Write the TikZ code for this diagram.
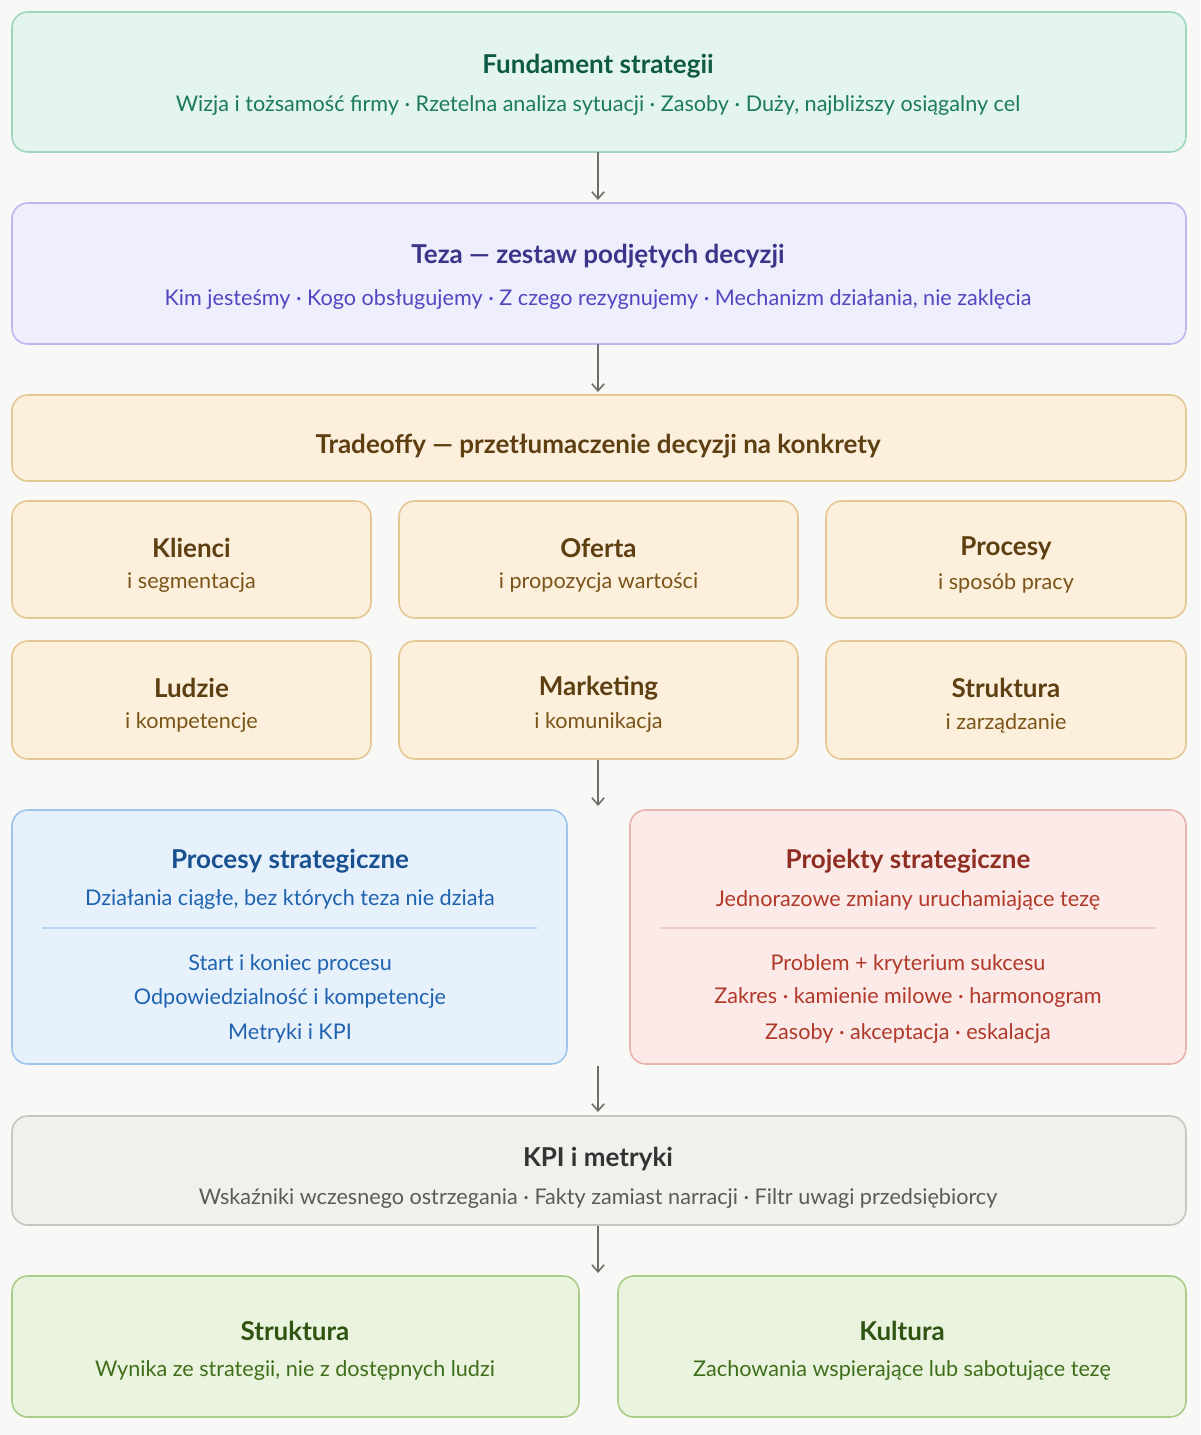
\documentclass[tikz,border=0pt]{standalone}
\usepackage{fontspec}
\setmainfont{Lato}
\usetikzlibrary{positioning,arrows.meta}
\definecolor{bgc}{HTML}{F8F8F6}
\definecolor{mintF}{HTML}{E4F5EE}\definecolor{mintD}{HTML}{9ED6BF}\definecolor{mintT}{HTML}{0F5A45}\definecolor{mintS}{HTML}{1B7B5B}
\definecolor{lilF}{HTML}{EEEEFD}\definecolor{lilD}{HTML}{BCB7F1}\definecolor{lilT}{HTML}{3C3489}\definecolor{lilS}{HTML}{5147C0}
\definecolor{sandF}{HTML}{FCF0DC}\definecolor{sandD}{HTML}{E5C793}\definecolor{sandT}{HTML}{5E3F12}\definecolor{sandS}{HTML}{7A5418}
\definecolor{bluF}{HTML}{E6F1FC}\definecolor{bluD}{HTML}{9CC5EE}\definecolor{bluT}{HTML}{185090}\definecolor{bluS}{HTML}{1F63B0}
\definecolor{redF}{HTML}{FBEAE7}\definecolor{redD}{HTML}{E8B3AA}\definecolor{redT}{HTML}{8E2E22}\definecolor{redS}{HTML}{B0392A}
\definecolor{grayF}{HTML}{F1F0EC}\definecolor{grayD}{HTML}{C8C6BF}\definecolor{grayT}{HTML}{333333}\definecolor{grayS}{HTML}{5A5A58}
\definecolor{grnF}{HTML}{EAF3DE}\definecolor{grnD}{HTML}{A9CC86}\definecolor{grnT}{HTML}{2F5311}\definecolor{grnS}{HTML}{3F6E1A}
\definecolor{arr}{HTML}{6E6E6A}
\tikzset{
  box/.style 2 args={draw=#2, fill=#1, line width=0.9pt, rounded corners=9pt},
  title/.style={font=\fontsize{14.8}{17}\selectfont\bfseries, text=#1, inner sep=0pt},
  sub/.style={font=\fontsize{12.3}{15}\selectfont, text=#1, inner sep=0pt},
  flow/.style={draw=arr, line width=0.9pt, -{Straight Barb[length=4pt,width=7pt]}},
}
\begin{document}
\begin{tikzpicture}[x=0.02cm,y=-0.02cm]
\fill[bgc] (0,0) rectangle (1200,1435);
\useasboundingbox (0,0) rectangle (1200,1435);

% ---------------------
% Fundament
\draw[box={mintF}{mintD}] (12,12) rectangle (1186,152);
\coordinate (FundS) at (598,152);
\node[title=mintT] (Fund) at (598,66) {Fundament strategii};
\node[sub=mintS] (FundSub) at (598,106) {Wizja i tożsamość firmy · Rzetelna analiza sytuacji · Zasoby · Duży, najbliższy osiągalny cel};

% ---------------------
% Teza
\draw[box={lilF}{lilD}] (12,203) rectangle (1186,344);
\coordinate (TezaN) at (598,203);
\coordinate (TezaS) at (598,344);
\node[title=lilT] (Teza) at (598,256) {Teza — zestaw podjętych decyzji};
\node[sub=lilS] (TezaSub) at (598,300) {Kim jesteśmy · Kogo obsługujemy · Z czego rezygnujemy · Mechanizm działania, nie zaklęcia};

% ---------------------
% Tradeoffy
\draw[box={sandF}{sandD}] (12,395) rectangle (1186,481);
\coordinate (TradeN) at (598,395);
\node[title=sandT] (Trade) at (598,446) {Tradeoffy — przetłumaczenie decyzji na konkrety};

\foreach \xa/\xb/\ya/\yb/\t/\s/\n in {
  12/371/501/618/Klienci/i segmentacja/klienci,
  399/798/501/618/Oferta/i propozycja wartości/oferta,
  826/1186/501/618/Procesy/i sposób pracy/procesy,
  12/371/641/759/Ludzie/i kompetencje/ludzie,
  399/798/641/759/Marketing/i komunikacja/marketing,
  826/1186/641/759/Struktura/i zarządzanie/struktura}{
  \draw[box={sandF}{sandD}] (\xa,\ya) rectangle (\xb,\yb);
  \node[title=sandT] (\n) at ({(\xa+\xb)/2},{\ya+47}) {\t};
  \node[sub=sandS] (\n-sub) at ({(\xa+\xb)/2},{\ya+82}) {\s};
}
\coordinate (MarkS) at (598,760);
\coordinate (SplitN) at (598,806);

% ---------------------
% Procesy / Projekty
\draw[box={bluF}{bluD}] (12,810) rectangle (567,1064);
\node[title=bluT] (ProcS) at (290,861) {Procesy strategiczne};
\node[sub=bluS] (ProcSub) at (290,900) {Działania ciągłe, bez których teza nie działa};
\draw[bluD!70, line width=0.7pt] (42,928) -- (537,928);
\node[sub=bluS] (Proc1) at (290,964) {Start i koniec procesu};
\node[sub=bluS] (Proc2) at (290,998) {Odpowiedzialność i kompetencje};
\node[sub=bluS] (Proc3) at (290,1033) {Metryki i KPI};

\draw[box={redF}{redD}] (630,810) rectangle (1186,1064);
\node[title=redT] (ProjS) at (908,861) {Projekty strategiczne};
\node[sub=redS] (ProjSub) at (908,900) {Jednorazowe zmiany uruchamiające tezę};
\draw[redD!70, line width=0.7pt] (661,928) -- (1156,928);
\node[sub=redS] (Proj1) at (908,964) {Problem + kryterium sukcesu};
\node[sub=redS] (Proj2) at (908,998) {Zakres · kamienie milowe · harmonogram};
\node[sub=redS] (Proj3) at (908,1033) {Zasoby · akceptacja · eskalacja};
\coordinate (SplitS) at (598,1066);

% ---------------------
% KPI
\draw[box={grayF}{grayD}] (12,1116) rectangle (1186,1225);
\coordinate (KpiN) at (598,1112);
\coordinate (KpiS) at (598,1226);
\node[title=grayT] (Kpi) at (598,1159) {KPI i metryki};
\node[sub=grayS] (KpiSub) at (598,1199) {Wskaźniki wczesnego ostrzegania · Fakty zamiast narracji · Filtr uwagi przedsiębiorcy};

% ---------------------
% Struktura / Kultura
\draw[box={grnF}{grnD}] (12,1276) rectangle (579,1417);
\node[title=grnT] (Strukt) at (295,1331) {Struktura};
\node[sub=grnS] (StruktSub) at (295,1370) {Wynika ze strategii, nie z dostępnych ludzi};
\draw[box={grnF}{grnD}] (618,1276) rectangle (1186,1417);
\node[title=grnT] (Kult) at (902,1331) {Kultura};
\node[sub=grnS] (KultSub) at (902,1370) {Zachowania wspierające lub sabotujące tezę};
\coordinate (BottomN) at (598,1273);

% ---------------------
% Arrows
\draw[flow] (FundS) -- (598,200);
\draw[flow] (TezaS) -- (598,392);
\draw[flow] (MarkS) -- (SplitN);
\draw[flow] (SplitS) -- (KpiN);
\draw[flow] (KpiS) -- (BottomN);
\end{tikzpicture}
\end{document}
